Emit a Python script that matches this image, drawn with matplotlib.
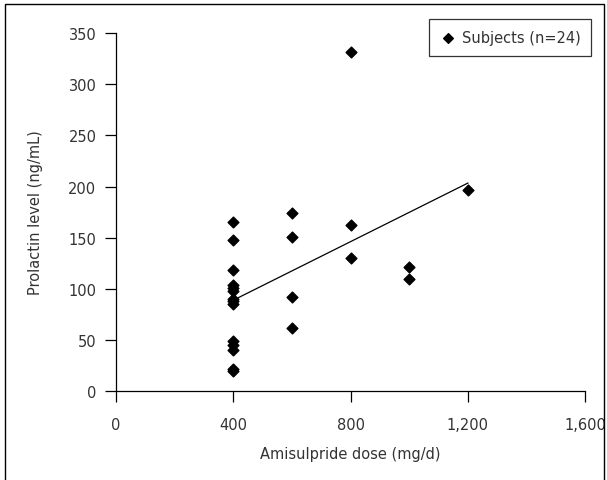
import numpy as np
import matplotlib as mpl
mpl.use("Agg")
import matplotlib.pyplot as plt
from matplotlib.patches import Rectangle
from matplotlib.ticker import FuncFormatter

# Amisulpride dose (mg/d) and prolactin level (ng/mL), n=24
dose = [400] * 14 + [600] * 4 + [800] * 3 + [1000] * 2 + [1200]
prolactin = [165, 148, 118, 104, 101, 98, 90, 88, 85, 49, 45, 40, 22, 20,
             174, 151, 92, 62,
             332, 162, 130,
             121, 110,
             197]

x_ticks = [0, 400, 800, 1200, 1600]
y_ticks = [0, 50, 100, 150, 200, 250, 300, 350]


def thousands(x, _):
    return f"{x:,.0f}"


def main():
    mpl.rcParams.update({
        "font.family": ["DejaVu Sans"],
        "font.size": 10.5,
        "text.color": "#333333",
        "xtick.color": "black",
        "ytick.color": "black",
        "xtick.labelcolor": "#333333",
        "ytick.labelcolor": "#333333",
        "axes.labelcolor": "#333333",
    })

    fig = plt.figure(figsize=(6.07, 4.81), dpi=100)
    ax = fig.add_axes([0.191, 0.185, 0.773, 0.744])

    # outer frame around the figure (no bottom edge visible)
    fig.patches.append(Rectangle((0.008, -0.05), 0.987, 1.04, transform=fig.transFigure,
                                 fill=False, edgecolor="black", linewidth=1.0))

    ax.scatter(dose, prolactin, marker="D", s=30, color="black", zorder=3,
               label="Subjects (n=24)")

    # linear trend line
    slope, intercept = np.polyfit(dose, prolactin, 1)
    xs = np.array([min(dose), max(dose)])
    ax.plot(xs, slope * xs + intercept, color="black", linewidth=0.9)

    ax.set_xlim(0, 1600)
    ax.set_ylim(0, 350)
    ax.set_xticks(x_ticks)
    ax.set_yticks(y_ticks)
    ax.xaxis.set_major_formatter(FuncFormatter(thousands))

    for side in ["top", "right"]:
        ax.spines[side].set_visible(False)
    for side in ["left", "bottom"]:
        ax.spines[side].set_linewidth(0.9)
    ax.tick_params(axis="x", direction="out", length=8, width=0.9, pad=11)
    ax.tick_params(axis="y", direction="out", length=8, width=0.9, pad=6)

    ax.set_xlabel("Amisulpride dose (mg/d)", labelpad=10)
    ax.set_ylabel("Prolactin level (ng/mL)", labelpad=18)

    leg = ax.legend(loc="upper right", bbox_to_anchor=(1.013, 1.039), borderaxespad=0,
                    frameon=True, fancybox=False, edgecolor="black", handletextpad=0.3,
                    handlelength=1.2, borderpad=0.75, markerscale=0.9)
    leg.get_frame().set_linewidth(0.9)

    fig.savefig("out.png", dpi=100)
    plt.close(fig)


if __name__ == "__main__":
    main()
